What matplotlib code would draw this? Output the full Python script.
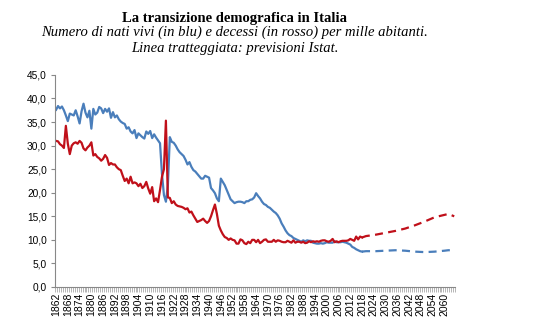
import matplotlib.pyplot as plt
import numpy as np

# tassi per mille abitanti, 1862-2018
anni = np.arange(1862, 2019)
nati = [37.6, 38.4, 37.9, 38.3, 37.5, 36.4, 35.2, 36.8, 36.6, 36.4,
        37.5, 36.2, 34.7, 37.3, 38.9, 37.0, 36.0, 37.4, 33.6, 37.8,
        36.6, 37.0, 38.2, 37.9, 36.9, 37.8, 37.2, 37.9, 35.9, 37.1,
        36.0, 36.4, 35.6, 35.1, 34.8, 34.6, 33.6, 33.9, 33.0, 32.6,
        33.3, 31.6, 32.6, 32.2, 31.8, 31.5, 33.0, 32.5, 33.1, 31.6,
        32.4, 31.7, 31.1, 30.5, 24.0, 19.5, 18.1, 21.5, 31.8, 30.8,
        30.6, 30.0, 29.2, 28.6, 28.2, 27.8, 27.0, 26.0, 26.5, 25.5,
        24.8, 24.5, 24.0, 23.5, 23.0, 23.0, 23.6, 23.4, 23.2, 21.0,
        20.5, 19.9, 18.8, 18.2, 23.0, 22.3, 21.6, 20.6, 19.6, 18.6,
        18.2, 17.8, 18.0, 18.1, 18.1, 18.0, 17.8, 18.2, 18.2, 18.5,
        18.6, 19.0, 19.9, 19.3, 18.8, 18.1, 17.6, 17.4, 17.0, 16.8,
        16.4, 16.0, 15.7, 15.2, 14.5, 13.5, 12.8, 12.0, 11.4, 11.0,
        10.8, 10.4, 10.2, 10.0, 9.8, 9.6, 9.9, 9.7, 9.9, 9.8,
        9.8, 9.4, 9.3, 9.2, 9.2, 9.3, 9.2, 9.3, 9.5, 9.4,
        9.4, 9.4, 9.7, 9.5, 9.5, 9.5, 9.6, 9.5, 9.4, 9.2,
        9.0, 8.5, 8.3, 8.0, 7.8, 7.6, 7.5]
morti = [31.0, 30.9, 30.3, 30.0, 29.5, 34.2, 30.4, 28.2, 30.0, 30.5,
         30.7, 30.4, 31.0, 30.6, 29.4, 29.0, 29.6, 30.0, 30.7, 27.9,
         28.2, 27.6, 27.3, 26.8, 27.2, 28.0, 27.4, 25.9, 26.3, 26.0,
         26.0, 25.4, 25.0, 24.8, 23.6, 22.5, 23.0, 22.0, 23.4, 22.0,
         22.2, 22.0, 21.4, 21.9, 21.0, 21.4, 22.3, 20.9, 19.8, 21.2,
         18.2, 18.8, 18.0, 20.6, 23.4, 25.0, 35.3, 19.0, 18.9, 17.8,
         18.2, 17.5, 17.2, 17.1, 17.0, 16.8, 16.5, 16.7, 15.8, 16.0,
         15.2, 14.5, 13.8, 14.0, 14.2, 14.5, 14.0, 13.6, 14.0, 15.0,
         16.3, 17.5, 15.5, 13.0, 12.0, 11.2, 10.6, 10.4, 10.0, 10.3,
         10.0, 9.9, 9.2, 9.2, 10.1, 9.9, 9.3, 9.1, 9.6, 9.3,
         10.0, 10.0, 9.5, 10.0, 9.3, 9.6, 10.0, 10.1, 9.6, 9.6,
         9.6, 10.0, 9.6, 9.9, 9.8, 9.6, 9.5, 9.5, 9.8, 9.6,
         9.4, 9.9, 9.4, 9.6, 9.6, 9.4, 9.6, 9.3, 9.4, 9.7,
         9.5, 9.7, 9.6, 9.7, 9.6, 9.8, 9.9, 9.9, 9.7, 9.6,
         9.8, 10.2, 9.5, 9.7, 9.5, 9.7, 9.8, 9.8, 9.8, 9.9,
         10.2, 10.0, 9.8, 10.7, 10.1, 10.7, 10.5]

# previsioni Istat
anni_prev = [2018, 2020, 2025, 2030, 2035, 2040, 2045, 2050, 2055, 2060, 2062, 2065]
nati_prev = [7.5, 7.6, 7.6, 7.7, 7.8, 7.7, 7.5, 7.4, 7.5, 7.7, 7.8, 7.8]
morti_prev = [10.5, 10.8, 11.1, 11.5, 11.9, 12.4, 13.1, 13.9, 14.8, 15.3, 15.5, 15.0]

blu = '#4a7ebb'
rosso = '#c0101a'

fig = plt.figure(figsize=(5.4, 3.23), dpi=100)
ax = fig.add_axes([0.102, 0.1115, 0.741, 0.6565])

ax.plot(anni, nati, color=blu, lw=1.6)
ax.plot(anni, morti, color=rosso, lw=1.6)
ax.plot(anni_prev, nati_prev, color=blu, lw=1.6, ls=(0, (3.6, 2.4)))
ax.plot(anni_prev, morti_prev, color=rosso, lw=1.6, ls=(0, (3.6, 2.4)))

fig.text(0.435, 0.933, 'La transizione demografica in Italia', ha='center',
         family='Liberation Serif', weight='bold', fontsize=10.5)
fig.text(0.435, 0.888, 'Numero di nati vivi (in blu) e decessi (in rosso) per mille abitanti.',
         ha='center', family='Liberation Serif', style='italic', fontsize=10.5)
fig.text(0.435, 0.839, 'Linea tratteggiata: previsioni Istat.', ha='center',
         family='Liberation Serif', style='italic', fontsize=10.5)

ax.set_xlim(1861.5, 2065.5)
ax.set_ylim(0, 45)
yt = np.arange(0, 46, 5)
ax.set_yticks(yt)
ax.set_yticklabels([('%.1f' % v).replace('.', ',') for v in yt],
                   fontsize=7.3, family='Liberation Sans')
xt = np.arange(1862, 2066, 6)
ax.set_xticks(xt)
ax.set_xticklabels([str(v) for v in xt], rotation=90, fontsize=7.5, family='Liberation Sans')
ax.set_xticks(np.arange(1861.5, 2066, 1), minor=True)
ax.tick_params(axis='x', which='major', length=0, pad=4)
ax.tick_params(axis='x', which='minor', length=3.5, width=0.5, color='#999999')
ax.tick_params(axis='y', length=3, width=0.8, color='#888888', pad=3)

for s in ['top', 'right']:
    ax.spines[s].set_visible(False)
for s in ['left', 'bottom']:
    ax.spines[s].set_color('#888888')

plt.savefig('out.png', dpi=100)
